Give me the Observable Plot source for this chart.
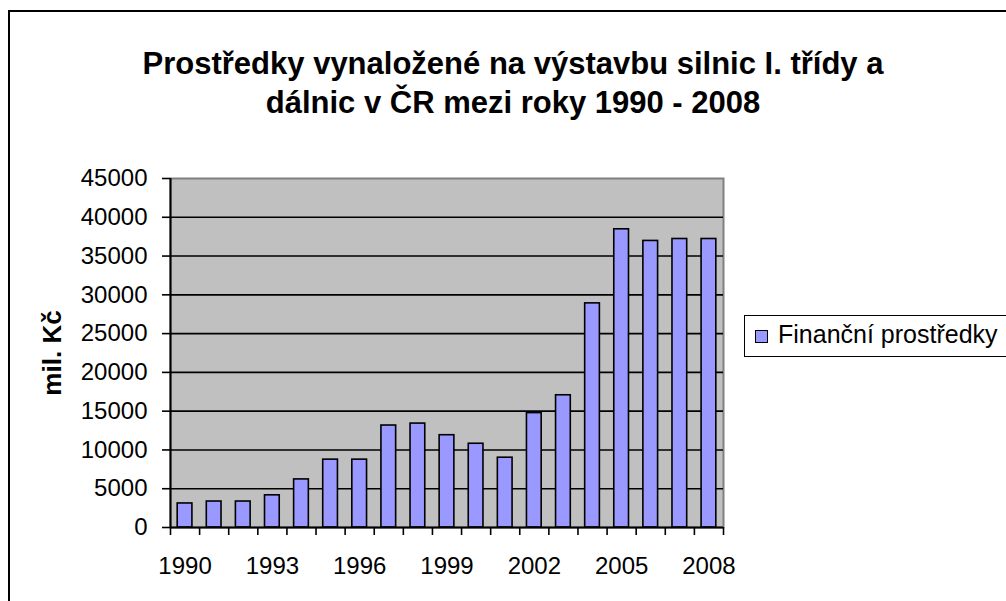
<!DOCTYPE html>
<html><head><meta charset="utf-8">
<script src="https://cdn.jsdelivr.net/npm/d3@7"></script>
<script src="https://cdn.jsdelivr.net/npm/@observablehq/plot@0.6"></script>
<style>
html,body{margin:0;padding:0;background:#fff;width:1006px;height:601px;overflow:hidden;font-family:"Liberation Sans",Arial,sans-serif;}
#wrap{position:relative;width:1006px;height:601px;}
#border{position:absolute;left:8px;top:10px;width:1100px;height:700px;border:2px solid #000;box-sizing:border-box;}
#title{position:absolute;left:0;width:1026px;top:44px;text-align:center;font-weight:bold;font-size:31px;line-height:39px;color:#000;white-space:nowrap;}
#legend{position:absolute;left:744px;top:315px;width:300px;height:42px;border:1.5px solid #000;box-sizing:border-box;background:#fff;font-size:25px;}
#legend .sw{position:absolute;left:10px;top:14px;width:13px;height:13px;background:#9999FF;border:1.5px solid #000;box-sizing:border-box;}
#legend .lt{position:absolute;left:33px;top:4px;white-space:nowrap;}
#chart{position:absolute;left:0;top:0;}
</style></head>
<body><div id="wrap">
<div id="chart"></div>
<div id="border"></div>
<div id="title"></div>
<div id="legend"><div class="sw"></div><div class="lt"></div></div>
</div>
<script>
const titleLines = ["Prostředky vynaložené na výstavbu silnic I. třídy a", "dálnic v ČR mezi roky 1990 - 2008"];
const yLabel = "mil. Kč";
const seriesName = "Finanční prostředky";
const years = [1990,1991,1992,1993,1994,1995,1996,1997,1998,1999,2000,2001,2002,2003,2004,2005,2006,2007,2008];
const values = [3100,3350,3350,4150,6200,8750,8750,13150,13400,11900,10800,9000,14750,17050,28900,38450,36950,37200,37200];
const yTicks = [0,5000,10000,15000,20000,25000,30000,35000,40000,45000];
const xTickLabels = [1990,1993,1996,1999,2002,2005,2008];

document.getElementById("title").innerHTML = titleLines.join("<br>");
document.querySelector("#legend .lt").textContent = seriesName;

const data = years.map((y,i)=>({year:y, value:values[i]}));
const boundaries = years.map(y=>y-0.5).concat([years[years.length-1]+0.5]);
const xMin = years[0]-0.5, xMax = years[years.length-1]+0.5;
const font = "Liberation Sans, Arial, sans-serif";

const chart = Plot.plot({
  width: 1006, height: 601,
  marginLeft: 170, marginRight: 283, marginTop: 178, marginBottom: 74,
  style: {fontFamily: font, fontSize: "24px", color: "#000", background: "transparent", overflow: "visible"},
  x: {domain: [xMin, xMax], type: "linear"},
  y: {domain: [0, 45000]},
  marks: [
    Plot.frame({fill: "#C0C0C0", stroke: "#808080", strokeWidth: 2}),
    Plot.ruleY(yTicks.filter(t=>t>0 && t<45000), {stroke: "#000", strokeWidth: 1.6}),
    Plot.rectY(data, {x1: d=>d.year-0.253, x2: d=>d.year+0.253, y: "value", fill: "#9999FF", stroke: "#000", strokeWidth: 1.6}),
    Plot.ruleX([xMin], {stroke: "#000", strokeWidth: 2}),
    Plot.ruleY([0], {stroke: "#000", strokeWidth: 2}),
    Plot.axisY({ticks: yTicks, tickSize: 8, tickPadding: 15, tickFormat: d=>String(d), label: null, stroke: "#000", strokeWidth: 1.6, fontSize: 24}),
    Plot.axisX({ticks: boundaries, tickSize: 8, tickFormat: ()=>"", label: null, stroke: "#000", strokeWidth: 1.6}),
    Plot.axisX({ticks: xTickLabels, tickSize: 0, tickPadding: 29, tickFormat: d=>String(d), label: null, fontSize: 24}),
    Plot.text([yLabel], {frameAnchor: "left", textAnchor: "middle", rotate: -90, dx: -118, fontWeight: "bold", fontSize: 26, fill: "#000"})
  ]
});
document.getElementById("chart").appendChild(chart);
</script>
</body></html>
